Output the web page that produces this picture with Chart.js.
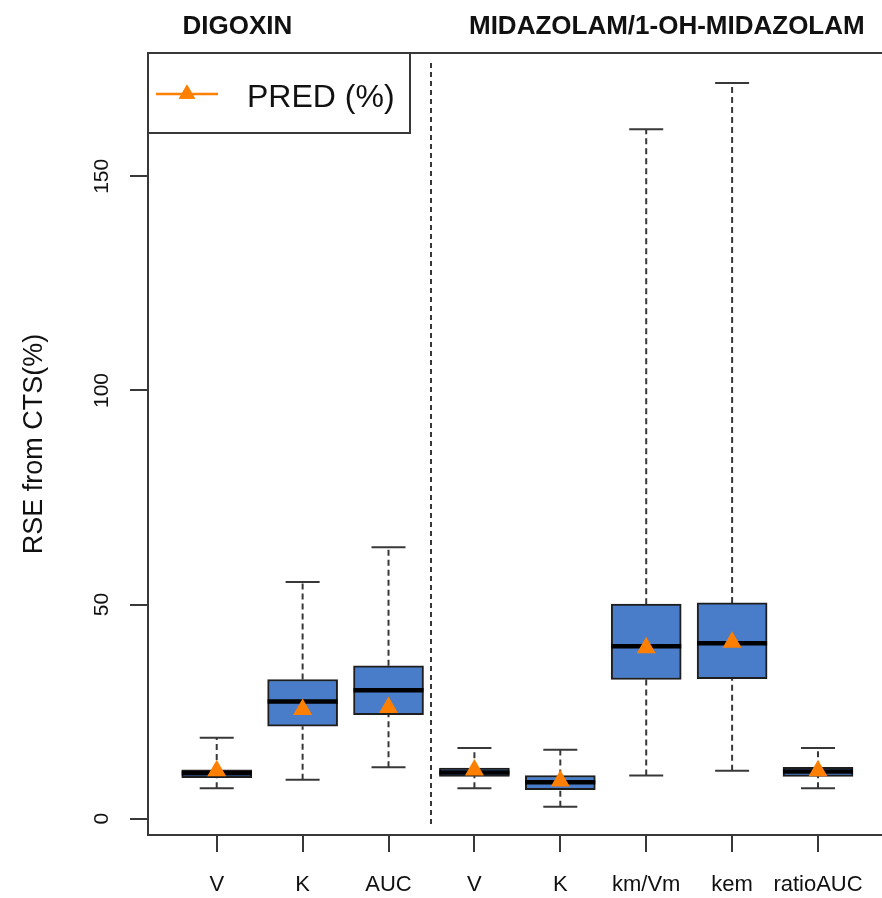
<!DOCTYPE html>
<html>
<head>
<meta charset="utf-8">
<script src="https://cdn.jsdelivr.net/npm/chart.js@4"></script>
<style>
  body { margin: 0; background: #ffffff; }
</style>
</head>
<body>
<canvas id="myChart" width="882" height="898"></canvas>
<script>
// values (RSE %)
const categories = ['V', 'K', 'AUC', 'V', 'K', 'km/Vm', 'kem', 'ratioAUC'];
const whiskerLow  = [7.1, 9.1, 12.0, 7.1, 2.8, 10.1, 11.2, 7.1];
const boxLow      = [9.6, 21.6, 24.3, 9.9, 6.8, 32.5, 32.7, 9.9];
const medians     = [10.6, 27.4, 30.0, 10.8, 8.5, 40.3, 41.0, 11.0];
const boxHigh     = [11.4, 32.5, 35.7, 11.8, 10.1, 50.1, 50.4, 12.0];
const whiskerHigh = [18.9, 55.3, 63.4, 16.5, 16.1, 161.0, 171.8, 16.5];
const pred        = [11.2, 25.5, 26.0, 11.4, 8.8, 39.9, 41.2, 11.2];
const yTicks = [0, 50, 100, 150];
const groupNames = ['DIGOXIN', 'MIDAZOLAM/1-OH-MIDAZOLAM'];
const groupAt = [1.24, 6.24];
const separatorAt = 3.5;

const FONT = "'Liberation Sans', Arial, sans-serif";
const boxColour = '#4a7dc9';
const predColour = '#ff7f00';
const lineColour = '#383838';

// whisker segments, broken with nulls between them
const whiskerData = [];
for (let i = 0; i < categories.length; i++) {
  whiskerData.push({x: i + 1, y: whiskerLow[i]}, {x: i + 1, y: boxLow[i]}, {x: i + 1, y: null});
  whiskerData.push({x: i + 1, y: boxHigh[i]}, {x: i + 1, y: whiskerHigh[i]}, {x: i + 1, y: null});
}
const capData = whiskerLow.map((v, i) => ({x: i + 1, y: v}))
  .concat(whiskerHigh.map((v, i) => ({x: i + 1, y: v})));

// extra drawing R does that chart.js has no option for
const decorations = {
  id: 'decorations',
  afterDraw(chart) {
    const ctx = chart.ctx;
    const area = chart.chartArea;
    const xs = chart.scales.x;
    const ys = chart.scales.y;
    ctx.save();

    // frame (left, top, bottom)
    ctx.strokeStyle = lineColour;
    ctx.lineWidth = 2;
    ctx.beginPath();
    ctx.moveTo(area.right + 5, area.top);
    ctx.lineTo(area.left, area.top);
    ctx.lineTo(area.left, area.bottom);
    ctx.lineTo(area.right + 5, area.bottom);
    ctx.stroke();

    // dashed separator between the two drugs
    const sx = Math.round(xs.getPixelForValue(separatorAt));
    ctx.setLineDash([5, 4]);
    ctx.beginPath();
    ctx.moveTo(sx, area.top + 10);
    ctx.lineTo(sx, area.bottom - 7);
    ctx.stroke();
    ctx.setLineDash([]);

    ctx.fillStyle = '#111';

    // y tick labels, rotated like R
    ctx.font = '21px ' + FONT;
    ctx.textAlign = 'center';
    yTicks.forEach(function(v) {
      ctx.save();
      ctx.translate(108, ys.getPixelForValue(v));
      ctx.rotate(-Math.PI / 2);
      ctx.fillText(String(v), 0, 0);
      ctx.restore();
    });

    // y title
    ctx.save();
    ctx.font = '27px ' + FONT;
    ctx.translate(42, (area.top + area.bottom) / 2);
    ctx.rotate(-Math.PI / 2);
    ctx.fillText('RSE from CTS(%)', 0, 0);
    ctx.restore();

    // group headings
    ctx.font = 'bold 26px ' + FONT;
    groupNames.forEach(function(name, i) {
      ctx.fillText(name, xs.getPixelForValue(groupAt[i]), 34);
    });

    // legend box
    ctx.fillStyle = '#ffffff';
    ctx.fillRect(area.left, area.top, 262, 80);
    ctx.strokeStyle = lineColour;
    ctx.lineWidth = 2;
    ctx.strokeRect(area.left, area.top, 262, 80);
    ctx.strokeStyle = predColour;
    ctx.lineWidth = 2.5;
    ctx.beginPath();
    ctx.moveTo(156, 94);
    ctx.lineTo(218, 94);
    ctx.stroke();
    ctx.fillStyle = predColour;
    Chart.helpers.drawPoint(ctx, {pointStyle: 'triangle', radius: 9.5, rotation: 0, borderWidth: 0}, 187, 94);
    ctx.fill();
    ctx.fillStyle = '#111';
    ctx.font = '32px ' + FONT;
    ctx.textAlign = 'left';
    ctx.fillText(chart.data.datasets[0].label, 247, 107);

    ctx.restore();
  }
};

const data = {
  datasets: [
    {
      type: 'scatter',
      label: 'PRED (%)',
      data: pred.map((v, i) => ({x: i + 1, y: v})),
      pointStyle: 'triangle',
      pointRadius: 11,
      pointHoverRadius: 11,
      backgroundColor: predColour,
      borderColor: predColour,
      borderWidth: 0,
      order: 0
    },
    {
      type: 'scatter',
      label: 'median',
      data: medians.map((v, i) => ({x: i + 1, y: v})),
      pointStyle: 'line',
      pointRadius: 35,
      pointHoverRadius: 35,
      borderColor: '#000000',
      borderWidth: 4.5,
      order: 1
    },
    {
      type: 'bar',
      label: 'box',
      data: boxLow.map((v, i) => ({x: i + 1, y: [v, boxHigh[i]]})),
      backgroundColor: boxColour,
      borderColor: '#1e1e1e',
      borderWidth: 2,
      borderSkipped: false,
      barThickness: 70,
      order: 2
    },
    {
      type: 'scatter',
      label: 'caps',
      data: capData,
      pointStyle: 'line',
      pointRadius: 17,
      pointHoverRadius: 17,
      borderColor: lineColour,
      borderWidth: 2,
      order: 3
    },
    {
      type: 'line',
      label: 'whiskers',
      data: whiskerData,
      borderColor: lineColour,
      borderWidth: 2,
      borderDash: [6, 4],
      pointRadius: 0,
      spanGaps: false,
      order: 4
    }
  ]
};

const config = {
  type: 'bar',
  data: data,
  options: {
    responsive: false,
    animation: false,
    layout: { autoPadding: false, padding: { top: 53, right: 0, left: 0, bottom: 0 } },
    plugins: {
      legend: { display: false },
      tooltip: { enabled: false }
    },
    scales: {
      x: {
        type: 'linear',
        min: 0.2,
        max: 8.745,
        offset: false,
        afterBuildTicks: function(scale) {
          scale.ticks = categories.map((c, i) => ({value: i + 1}));
        },
        afterFit: function(scale) {
          scale.height = 63;
          scale.paddingLeft = 0;
          scale.paddingRight = 0;
        },
        border: { display: false },
        grid: { offset: false, drawOnChartArea: false, tickLength: 17, color: lineColour, lineWidth: 2 },
        ticks: {
          autoSkip: false,
          maxRotation: 0,
          padding: 20,
          color: '#111',
          font: { family: FONT, size: 22 },
          callback: function(v) { return categories[v - 1] || ''; }
        }
      },
      y: {
        min: -3.8,
        max: 178.8,
        afterBuildTicks: function(scale) {
          scale.ticks = yTicks.map(v => ({value: v}));
        },
        afterFit: function(scale) { scale.width = 148; },
        border: { display: false },
        grid: { drawOnChartArea: false, tickLength: 18, color: lineColour, lineWidth: 2 },
        ticks: { display: false }
      }
    }
  },
  plugins: [decorations]
};

const myChart = new Chart(document.getElementById('myChart'), config);
</script>
</body>
</html>
